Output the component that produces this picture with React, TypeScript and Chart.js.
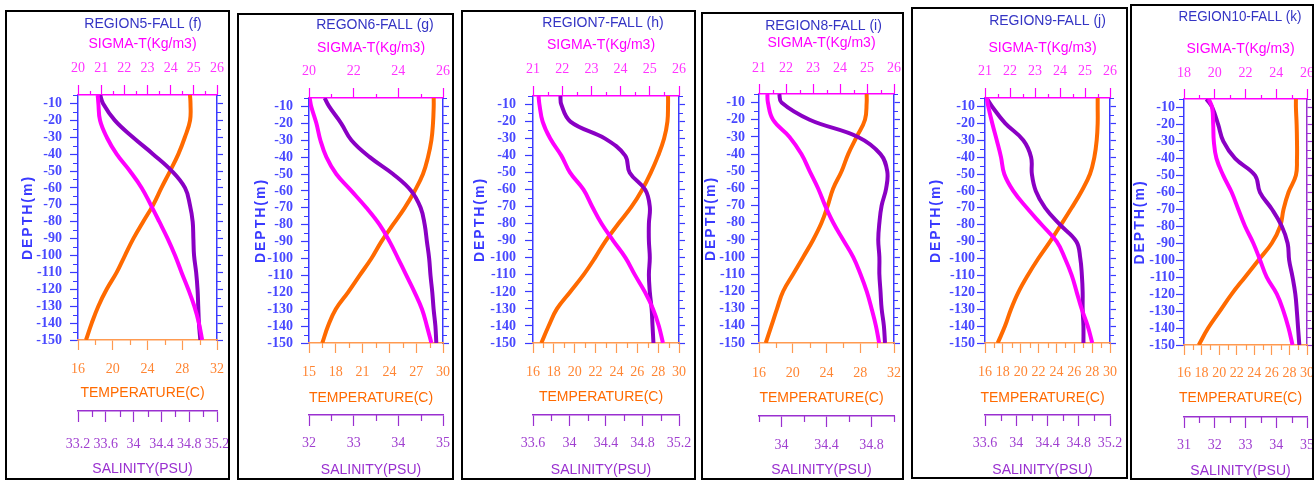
import React, { useEffect, useRef } from "react";
import { Chart, registerables } from "chart.js";

Chart.register(...registerables);

// ---------------- DATA ----------------
const DEPTH = [-5, -10, -20, -30, -40, -50, -60, -70, -80, -90, -100, -110, -120, -130, -140, -150];
const DEPTH_TICKS = [-150, -140, -130, -120, -110, -100, -90, -80, -70, -60, -50, -40, -30, -20, -10];
const DEPTH_RANGE = [-150, -5];

// Region 5 (f)
const F_SIGMA = [20.85, 20.88, 20.95, 21.24, 21.67, 22.24, 22.75, 23.14, 23.51, 23.87, 24.19, 24.47, 24.76, 25.02, 25.22, 25.36];
const F_TEMP = [28.89, 28.95, 28.9, 28.3, 27.55, 26.6, 25.6, 24.66, 23.5, 22.37, 21.4, 20.45, 19.3, 18.34, 17.58, 16.92];
const F_SAL = [33.52, 33.56, 33.73, 33.99, 34.28, 34.55, 34.74, 34.81, 34.85, 34.86, 34.87, 34.9, 34.92, 34.93, 34.94, 34.96];
const F_SIGMA_TICKS = [20, 21, 22, 23, 24, 25, 26];
const F_TEMP_TICKS = [16, 20, 24, 28, 32];
const F_SAL_TICKS = [33.2, 33.6, 34, 34.4, 34.8, 35.2];

// Region 6 (g)
const G_SIGMA = [20.03, 20.1, 20.33, 20.51, 20.78, 21.22, 21.9, 22.57, 23.16, 23.61, 23.99, 24.36, 24.73, 25.06, 25.28, 25.48];
const G_TEMP = [28.96, 28.96, 28.88, 28.7, 28.32, 27.76, 26.83, 25.71, 24.4, 23.1, 21.98, 20.67, 19.37, 17.99, 17.13, 16.49];
const G_SAL = [32.35, 32.45, 32.72, 32.95, 33.36, 33.88, 34.29, 34.5, 34.59, 34.64, 34.69, 34.72, 34.76, 34.79, 34.83, 34.85];
const G_SIGMA_TICKS = [20, 22, 24, 26];
const G_TEMP_TICKS = [15, 18, 21, 24, 27, 30];
const G_SAL_TICKS = [32, 33, 34, 35];

// Region 7 (h)
const H_SIGMA = [21.19, 21.22, 21.33, 21.59, 21.97, 22.27, 22.73, 23.03, 23.35, 23.75, 24.17, 24.49, 24.83, 25.11, 25.31, 25.45];
const H_TEMP = [28.95, 28.95, 28.89, 28.57, 28.0, 27.3, 26.47, 25.45, 24.18, 22.97, 21.95, 20.84, 19.56, 18.29, 17.5, 16.8];
const H_SAL = [33.9, 33.91, 34.01, 34.39, 34.61, 34.66, 34.83, 34.88, 34.87, 34.87, 34.88, 34.87, 34.88, 34.9, 34.91, 34.92];
const H_SIGMA_TICKS = [21, 22, 23, 24, 25, 26];
const H_TEMP_TICKS = [16, 18, 20, 22, 24, 26, 28, 30];
const H_SAL_TICKS = [33.6, 34, 34.4, 34.8, 35.2];

// Region 8 (i)
const I_SIGMA = [21.31, 21.33, 21.52, 22.13, 22.57, 22.88, 23.19, 23.45, 23.75, 24.12, 24.49, 24.76, 24.99, 25.17, 25.33, 25.45];
const I_TEMP = [28.76, 28.76, 28.56, 27.57, 26.57, 25.79, 24.79, 24.15, 23.41, 22.41, 21.23, 20.04, 18.85, 18.14, 17.47, 16.8];
const I_SAL = [33.98, 34.0, 34.25, 34.68, 34.88, 34.94, 34.93, 34.89, 34.87, 34.86, 34.87, 34.87, 34.88, 34.89, 34.91, 34.92];
const I_SIGMA_TICKS = [21, 22, 23, 24, 25, 26];
const I_TEMP_TICKS = [16, 20, 24, 28, 32];
const I_SAL_TICKS = [34, 34.4, 34.8];
const I_SAL_RANGE = [33.8, 35.0];

// Region 9 (j)
const J_SIGMA = [21.07, 21.13, 21.29, 21.47, 21.64, 21.77, 22.13, 22.67, 23.27, 23.87, 24.2, 24.47, 24.67, 24.87, 25.11, 25.29];
const J_TEMP = [28.62, 28.62, 28.62, 28.51, 28.25, 27.76, 26.83, 25.71, 24.51, 23.28, 21.97, 20.78, 19.73, 18.91, 18.24, 17.42];
const J_SAL = [33.62, 33.69, 33.86, 34.09, 34.19, 34.2, 34.25, 34.37, 34.56, 34.77, 34.82, 34.84, 34.85, 34.85, 34.86, 34.86];
const J_SIGMA_TICKS = [21, 22, 23, 24, 25, 26];
const J_TEMP_TICKS = [16, 18, 20, 22, 24, 26, 28, 30];
const J_SAL_TICKS = [33.6, 34, 34.4, 34.8, 35.2];

// Region 10 (k)
const K_SIGMA = [19.61, 19.83, 19.9, 19.94, 20.11, 20.55, 21.1, 21.53, 21.97, 22.51, 22.95, 23.38, 24.04, 24.47, 24.8, 25.06];
const K_TEMP = [28.74, 28.74, 28.82, 28.86, 28.86, 28.74, 27.9, 27.33, 26.95, 25.99, 24.47, 22.94, 21.42, 20.08, 18.75, 17.68];
const K_SAL = [31.73, 31.92, 32.11, 32.28, 32.66, 33.31, 33.47, 33.86, 34.18, 34.37, 34.42, 34.53, 34.62, 34.67, 34.71, 34.75];
const K_SIGMA_TICKS = [18, 20, 22, 24, 26];
const K_TEMP_TICKS = [16, 18, 20, 22, 24, 26, 28, 30];
const K_SAL_TICKS = [31, 32, 33, 34, 35];

const TITLES = ["REGION5-FALL (f)", "REGON6-FALL (g)", "REGION7-FALL (h)", "REGION8-FALL (i)", "REGION9-FALL (j)", "REGION10-FALL (k)"];
const SIGMA_TITLE = "SIGMA-T(Kg/m3)";
const TEMP_TITLE = "TEMPERATURE(C)";
const SAL_TITLE = "SALINITY(PSU)";
const DEPTH_TITLE = "DEPTH(m)";

// ---------------- STYLE ----------------
const C_TITLE = "#3434c4";
const C_DEPTH = "#3a3aff";
const C_DEPTH_LABEL = "#4848ff";
const C_SIGMA = "#ff00ff";
const C_SIGMA_LABEL = "#ff33ff";
const C_TEMP = "#ff6a00";
const C_TEMP_AXIS = "#ff9a50";
const C_TEMP_LABEL = "#ff8533";
const C_SAL = "#8a00c4";
const C_SAL_AXIS = "#9a30d0";
const C_SAL_LABEL = "#a040d0";

const SANS = "'Liberation Sans', Arial, sans-serif";
const SERIF = "'Liberation Serif', 'Times New Roman', serif";
const BORDER = 2;
const TITLE_SIZE = 14;
const AX_TITLE_SIZE = 14;
const TICK_SIZE = 14;
const AX_TITLE_SHIFT = -5;

type PanelSpec = {
  title: string;
  sigma: number[];
  temp: number[];
  sal: number[];
  sigmaTicks: number[];
  tempTicks: number[];
  salTicks: number[];
  salRange?: number[];
  rightColor: string;
};

type LayoutSpec = {
  box: number[]; // x, y, w, h (page)
  plot: number[]; // left, top, right, bottom (page)
  titleY: number;
  titleShift: number;
  sigTitleY: number;
  sigLabY: number;
  tempLabY: number;
  tempTitleY: number;
  salLineY: number;
  salLabY: number;
  salTitleY: number;
  depthTitleX: number;
  yLabRight: number;
};

const PANELS: PanelSpec[] = [
  { title: TITLES[0], sigma: F_SIGMA, temp: F_TEMP, sal: F_SAL, sigmaTicks: F_SIGMA_TICKS, tempTicks: F_TEMP_TICKS, salTicks: F_SAL_TICKS, rightColor: C_DEPTH },
  { title: TITLES[1], sigma: G_SIGMA, temp: G_TEMP, sal: G_SAL, sigmaTicks: G_SIGMA_TICKS, tempTicks: G_TEMP_TICKS, salTicks: G_SAL_TICKS, rightColor: C_DEPTH },
  { title: TITLES[2], sigma: H_SIGMA, temp: H_TEMP, sal: H_SAL, sigmaTicks: H_SIGMA_TICKS, tempTicks: H_TEMP_TICKS, salTicks: H_SAL_TICKS, rightColor: C_DEPTH },
  { title: TITLES[3], sigma: I_SIGMA, temp: I_TEMP, sal: I_SAL, sigmaTicks: I_SIGMA_TICKS, tempTicks: I_TEMP_TICKS, salTicks: I_SAL_TICKS, salRange: I_SAL_RANGE, rightColor: C_DEPTH },
  { title: TITLES[4], sigma: J_SIGMA, temp: J_TEMP, sal: J_SAL, sigmaTicks: J_SIGMA_TICKS, tempTicks: J_TEMP_TICKS, salTicks: J_SAL_TICKS, rightColor: C_DEPTH },
  { title: TITLES[5], sigma: K_SIGMA, temp: K_TEMP, sal: K_SAL, sigmaTicks: K_SIGMA_TICKS, tempTicks: K_TEMP_TICKS, salTicks: K_SAL_TICKS, rightColor: C_SAL_AXIS },
];

const LAYOUTS: LayoutSpec[] = [
  { box: [5, 10, 225, 470], plot: [78, 95, 217, 340], titleY: 24, titleShift: -4.5, sigTitleY: 44, sigLabY: 68, tempLabY: 369, tempTitleY: 393, salLineY: 411, salLabY: 444, salTitleY: 469, depthTitleX: 28, yLabRight: 62 },
  { box: [237, 13, 217, 467], plot: [309, 98, 443, 343], titleY: 25, titleShift: -1, sigTitleY: 48, sigLabY: 71, tempLabY: 372, tempTitleY: 398, salLineY: 415, salLabY: 443, salTitleY: 470, depthTitleX: 261, yLabRight: 293 },
  { box: [461, 10, 235, 470], plot: [533, 96, 679, 343], titleY: 23, titleShift: -3, sigTitleY: 45, sigLabY: 69, tempLabY: 372, tempTitleY: 397, salLineY: 415, salLabY: 443, salTitleY: 470, depthTitleX: 480, yLabRight: 516 },
  { box: [701, 12, 203, 468], plot: [759, 94, 894, 343], titleY: 26, titleShift: -3, sigTitleY: 43, sigLabY: 68, tempLabY: 373, tempTitleY: 398, salLineY: 416, salLabY: 445, salTitleY: 470, depthTitleX: 711, yLabRight: 745 },
  { box: [911, 7, 217, 472], plot: [985, 98, 1110, 343], titleY: 21, titleShift: 0, sigTitleY: 48, sigLabY: 71, tempLabY: 372, tempTitleY: 398, salLineY: 415, salLabY: 443, salTitleY: 470, depthTitleX: 936, yLabRight: 975 },
  { box: [1130, 4, 184, 476], plot: [1184, 99, 1307, 345], titleY: 17, titleShift: -5.5, sigTitleY: 49, sigLabY: 73, tempLabY: 373, tempTitleY: 398, salLineY: 417, salLabY: 445, salTitleY: 471, depthTitleX: 1140, yLabRight: 1175 },
];

// ---------------- HELPERS ----------------
type TitleTweak = { spacing?: string; dx?: number };

function wrapTitle(obj: any, key: string, tw: TitleTweak) {
  if (!obj || obj["__tw_" + key]) return;
  const orig = obj[key];
  obj[key] = function (...args: any[]) {
    const ctx = this.ctx;
    ctx.save();
    if (tw.spacing) ctx.letterSpacing = tw.spacing;
    if (tw.dx) ctx.translate(tw.dx, 0);
    const r = orig.apply(this, args);
    ctx.restore();
    return r;
  };
  obj["__tw_" + key] = true;
}

type Minor = { step: number; len: number; color: string };

function makeExtras(minor: Record<string, Minor>, tweaks: Record<string, TitleTweak>) {
  return {
    id: "panelExtras",
    afterLayout(chart: any) {
      Object.values(chart.scales).forEach((s: any) => {
        if (tweaks[s.id]) wrapTitle(s, "drawTitle", tweaks[s.id]);
      });
      if (tweaks.__title && chart.titleBlock) wrapTitle(chart.titleBlock, "draw", tweaks.__title);
    },
    afterDraw(chart: any) {
      const ctx = chart.ctx;
      Object.values(chart.scales).forEach((s: any) => {
        const m = minor[s.id];
        if (!m || !s.ticks.length) return;
        const t0 = Math.min(...s.ticks.map((t: any) => t.value));
        const ms = m.step;
        const kmin = Math.ceil((s.min - t0) / ms - 1e-6);
        const kmax = Math.floor((s.max - t0) / ms + 1e-6);
        const pos = s.options.position;
        ctx.save();
        ctx.strokeStyle = m.color;
        ctx.lineWidth = 1.2;
        ctx.beginPath();
        for (let k = kmin; k <= kmax; k++) {
          if (Math.abs(k % 2) !== 1) continue;
          const v = t0 + k * ms;
          const px = Math.round(s.getPixelForValue(v)) + 0.5;
          if (pos === "top") { ctx.moveTo(px, s.bottom); ctx.lineTo(px, s.bottom - m.len); }
          else if (pos === "bottom") { ctx.moveTo(px, s.top); ctx.lineTo(px, s.top + m.len); }
          else if (pos === "left") { ctx.moveTo(s.right, px); ctx.lineTo(s.right - m.len, px); }
          else { ctx.moveTo(s.left, px); ctx.lineTo(s.left + m.len, px); }
        }
        ctx.stroke();
        ctx.restore();
      });
    },
  };
}

const fmt = (v: any) => String(Math.round(Number(v) * 100) / 100);
const setTicks = (arr: number[]) => (s: any) => { s.ticks = arr.map((v) => ({ value: v })); };
const fixH = (h: number) => (s: any) => { s.height = h; s.paddingLeft = 0; s.paddingRight = 0; };
const fixW = (w: number) => (s: any) => { s.width = w; s.paddingTop = 0; s.paddingBottom = 0; };

function buildConfig(p: PanelSpec, L: LayoutSpec) {
  const ox = L.box[0] + BORDER;
  const oy = L.box[1] + BORDER;
  const cw = L.box[2] - 2 * BORDER;
  const ch = L.box[3] - 2 * BORDER;
  const [pl, pt, pr, pb] = L.plot;

  const SIG_TL = 10, TEMP_TL = 10, SAL_TL = 11, Y_TL = 8, Y2_TL = 6;

  const titleBottom = L.titleY + TITLE_SIZE / 2;
  const sigH = pt - titleBottom;
  const tempH = L.salLineY - pb;
  const salH = oy + ch - L.salLineY;
  const leftW = pl - ox;
  const rightW = ox + cw - pr;

  const sigRange = [p.sigmaTicks[0], p.sigmaTicks[p.sigmaTicks.length - 1]];
  const tempRange = [p.tempTicks[0], p.tempTicks[p.tempTicks.length - 1]];
  const salRange = p.salRange || [p.salTicks[0], p.salTicks[p.salTicks.length - 1]];
  const half = (t: number[]) => (t[1] - t[0]) / 2;

  const tickFont = { family: SERIF, size: TICK_SIZE, weight: "normal", lineHeight: 1 };
  const axTitleFont = { family: SANS, size: AX_TITLE_SIZE, weight: "normal", lineHeight: 1 };

  const line = (vals: number[], axis: string, color: string) => ({
    data: DEPTH.map((d, i) => ({ x: vals[i], y: d })),
    xAxisID: axis,
    yAxisID: "y",
    borderColor: color,
    backgroundColor: color,
    borderWidth: 4,
    pointRadius: 0,
    tension: 0.4,
    fill: false,
    borderJoinStyle: "round",
    borderCapStyle: "butt",
  });

  const minor: Record<string, Minor> = {
    sig: { step: half(p.sigmaTicks), len: 4, color: C_SIGMA },
    temp: { step: half(p.tempTicks), len: 5, color: C_TEMP_AXIS },
    sal: { step: half(p.salTicks), len: 6, color: C_SAL_AXIS },
    y: { step: 5, len: 5, color: C_DEPTH },
    y2: { step: 5, len: 4, color: p.rightColor },
  };

  const tweaks: Record<string, TitleTweak> = {
    y: { spacing: "2px" },
    sig: { dx: AX_TITLE_SHIFT },
    temp: { dx: AX_TITLE_SHIFT },
    sal: { dx: AX_TITLE_SHIFT },
    __title: { dx: L.titleShift },
  };

  return {
    type: "line",
    data: {
      datasets: [line(p.sigma, "sig", C_SIGMA), line(p.sal, "sal", C_SAL), line(p.temp, "temp", C_TEMP)],
    },
    plugins: [makeExtras(minor, tweaks)],
    options: {
      responsive: false,
      maintainAspectRatio: false,
      animation: false,
      events: [],
      indexAxis: "y",
      layout: { padding: 0 },
      plugins: {
        legend: { display: false },
        tooltip: { enabled: false },
        title: {
          display: true,
          text: p.title,
          color: C_TITLE,
          fullSize: false,
          font: { family: SANS, size: TITLE_SIZE, weight: "normal", lineHeight: 1 },
          padding: { top: L.titleY - oy - TITLE_SIZE / 2, bottom: 0 },
        },
      },
      scales: {
        y: {
          type: "linear",
          axis: "y",
          position: "left",
          min: DEPTH_RANGE[0],
          max: DEPTH_RANGE[1],
          afterBuildTicks: setTicks(DEPTH_TICKS),
          afterFit: fixW(leftW),
          ticks: {
            autoSkip: false,
            padding: pl - Y_TL - L.yLabRight,
            color: C_DEPTH_LABEL,
            font: { family: SERIF, size: 14, weight: "bold", lineHeight: 1 },
            callback: fmt,
          },
          grid: { drawOnChartArea: false, drawTicks: true, tickLength: Y_TL, tickColor: C_DEPTH, tickWidth: 1.2 },
          border: { display: true, color: C_DEPTH, width: 1.5 },
          title: {
            display: true,
            text: DEPTH_TITLE,
            color: C_DEPTH,
            font: { family: SANS, size: 14, weight: "bold", lineHeight: 1 },
            padding: { top: L.depthTitleX - ox - 7, bottom: 0 },
          },
        },
        y2: {
          type: "linear",
          axis: "y",
          position: "right",
          min: DEPTH_RANGE[0],
          max: DEPTH_RANGE[1],
          afterBuildTicks: setTicks(DEPTH_TICKS),
          afterFit: fixW(rightW),
          ticks: { display: false },
          grid: { drawOnChartArea: false, drawTicks: true, tickLength: Y2_TL, tickColor: p.rightColor, tickWidth: 1.2 },
          border: { display: true, color: p.rightColor, width: 1.5 },
        },
        sig: {
          type: "linear",
          axis: "x",
          position: "top",
          min: sigRange[0],
          max: sigRange[1],
          afterBuildTicks: setTicks(p.sigmaTicks),
          afterFit: fixH(sigH),
          ticks: {
            autoSkip: false,
            maxRotation: 0,
            minRotation: 0,
            padding: pt - SIG_TL - TICK_SIZE / 2 - L.sigLabY,
            color: C_SIGMA_LABEL,
            font: tickFont,
            callback: fmt,
          },
          grid: { drawOnChartArea: false, drawTicks: true, tickLength: SIG_TL, tickColor: C_SIGMA, tickWidth: 1.2 },
          border: { display: true, color: C_SIGMA, width: 1.5 },
          title: {
            display: true,
            text: SIGMA_TITLE,
            color: C_SIGMA,
            font: axTitleFont,
            padding: { top: L.sigTitleY - titleBottom - AX_TITLE_SIZE / 2, bottom: 0 },
          },
        },
        temp: {
          type: "linear",
          axis: "x",
          position: "bottom",
          weight: 0,
          min: tempRange[0],
          max: tempRange[1],
          afterBuildTicks: setTicks(p.tempTicks),
          afterFit: fixH(tempH),
          ticks: {
            autoSkip: false,
            maxRotation: 0,
            minRotation: 0,
            padding: L.tempLabY - pb - TEMP_TL - TICK_SIZE / 2,
            color: C_TEMP_LABEL,
            font: tickFont,
            callback: fmt,
          },
          grid: { drawOnChartArea: false, drawTicks: true, tickLength: TEMP_TL, tickColor: C_TEMP_AXIS, tickWidth: 1.2 },
          border: { display: true, color: C_TEMP_AXIS, width: 1.5 },
          title: {
            display: true,
            text: TEMP_TITLE,
            color: C_TEMP,
            font: axTitleFont,
            padding: { top: 0, bottom: L.salLineY - L.tempTitleY - AX_TITLE_SIZE / 2 },
          },
        },
        sal: {
          type: "linear",
          axis: "x",
          position: "bottom",
          weight: 1,
          min: salRange[0],
          max: salRange[1],
          afterBuildTicks: setTicks(p.salTicks),
          afterFit: fixH(salH),
          ticks: {
            autoSkip: false,
            maxRotation: 0,
            minRotation: 0,
            padding: L.salLabY - L.salLineY - SAL_TL - TICK_SIZE / 2,
            color: C_SAL_LABEL,
            font: tickFont,
            callback: fmt,
          },
          grid: { drawOnChartArea: false, drawTicks: true, tickLength: SAL_TL, tickColor: C_SAL_AXIS, tickWidth: 1.2 },
          border: { display: true, color: C_SAL_AXIS, width: 1.5 },
          title: {
            display: true,
            text: SAL_TITLE,
            color: C_SAL_AXIS,
            font: axTitleFont,
            padding: { top: 0, bottom: oy + ch - L.salTitleY - AX_TITLE_SIZE / 2 },
          },
        },
      },
    },
  };
}

function Panel({ spec, layout }: { spec: PanelSpec; layout: LayoutSpec }) {
  const ref = useRef<HTMLCanvasElement | null>(null);
  const [bx, by, bw, bh] = layout.box;
  const cw = bw - 2 * BORDER;
  const ch = bh - 2 * BORDER;
  useEffect(() => {
    if (!ref.current) return;
    const chart = new Chart(ref.current, buildConfig(spec, layout) as any);
    return () => chart.destroy();
  }, [spec, layout]);
  return (
    <div
      style={{
        position: "absolute",
        left: bx,
        top: by,
        width: bw,
        height: bh,
        border: `${BORDER}px solid #000`,
        boxSizing: "border-box",
        background: "#fff",
      }}
    >
      <canvas ref={ref} width={cw} height={ch} style={{ position: "absolute", left: 0, top: 0, width: cw, height: ch }} />
    </div>
  );
}

export default function App() {
  return (
    <div style={{ position: "absolute", left: 0, top: 0, width: 1316, height: 481, background: "#fff" }}>
      {PANELS.map((p, i) => (
        <Panel key={i} spec={p} layout={LAYOUTS[i]} />
      ))}
    </div>
  );
}
